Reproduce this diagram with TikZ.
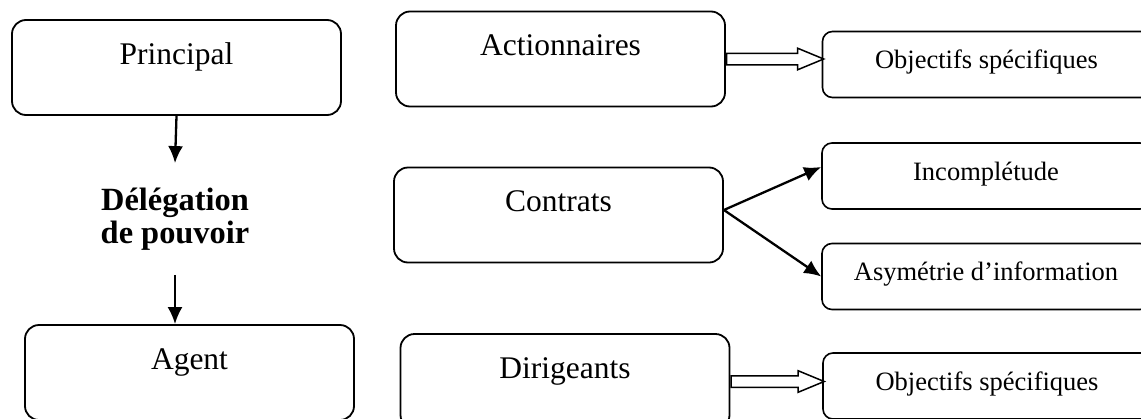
\documentclass[tikz,border=0pt]{standalone}
\usepackage{fontspec}
\setmainfont{Liberation Serif}
\usetikzlibrary{arrows.meta,shapes.arrows}

\begin{document}
\begin{tikzpicture}[x=0.5pt, y=-0.5pt,
	bigbox/.style={draw, line width=0.9pt, rounded corners=7pt, minimum width=164.5pt, inner sep=0pt, text height=22pt, text depth=25.5pt, font=\fontsize{15.75}{17}\selectfont},
	smallbox/.style={draw, line width=0.8pt, rounded corners=5pt, minimum width=164pt, inner sep=0pt, text height=18.5pt, text depth=14.5pt, font=\fontsize{13.25}{15}\selectfont},
	link/.style={-{Latex[length=8.5pt, width=7.5pt]}, line width=1.15pt},
	fatarrow/.style={single arrow, draw, line width=0.75pt, anchor=tail, inner sep=0pt, text height=2.5pt, text depth=2.5pt, single arrow head extend=2.5pt, single arrow tip angle=45}]
	\useasboundingbox (0,0) rectangle (1141,418);
	\clip (0,0) rectangle (1141,418);
	
	\node[bigbox] (principal) at (176.5,67.5) {Principal};
	\node[bigbox] (agent) at (189.5,372.5) {Agent};
	\node[align=center, inner xsep=0pt, inner ysep=12pt, font=\fontsize{16.2}{16.8}\selectfont\bfseries] (deleg) at (175,219) {Délégation\\de pouvoir};
	\draw[link] (principal.south) -- (deleg.north);
	\draw[link] (deleg.south) -- (deleg.south |- agent.north);
	
	\node[bigbox] (act) at (560.5,59) {Actionnaires};
	\node[bigbox] (contrats) at (558.5,215) {Contrats};
	\node[bigbox] (dirig) at (565,381.5) {Dirigeants};
	
	\node[smallbox] (obj1) at (986.5,64.5) {Objectifs spécifiques};
	\node[smallbox] (inc) at (986,176) {Incomplétude};
	\node[smallbox] (asy) at (986,276.5) {Asymétrie d’information};
	\node[smallbox] (obj2) at (987,386) {Objectifs spécifiques};
	
	\node[fatarrow, minimum height=48.5pt] (ar1) at (act.east) {};
	\node[fatarrow, minimum height=46.5pt] (ar2) at (dirig.east) {};
	\draw[link] ([yshift=2.5pt]contrats.east) -- ([yshift=4.5pt]inc.west);
	\draw[link] ([yshift=2.5pt]contrats.east) -- (asy.west);
\end{tikzpicture}
\end{document}
